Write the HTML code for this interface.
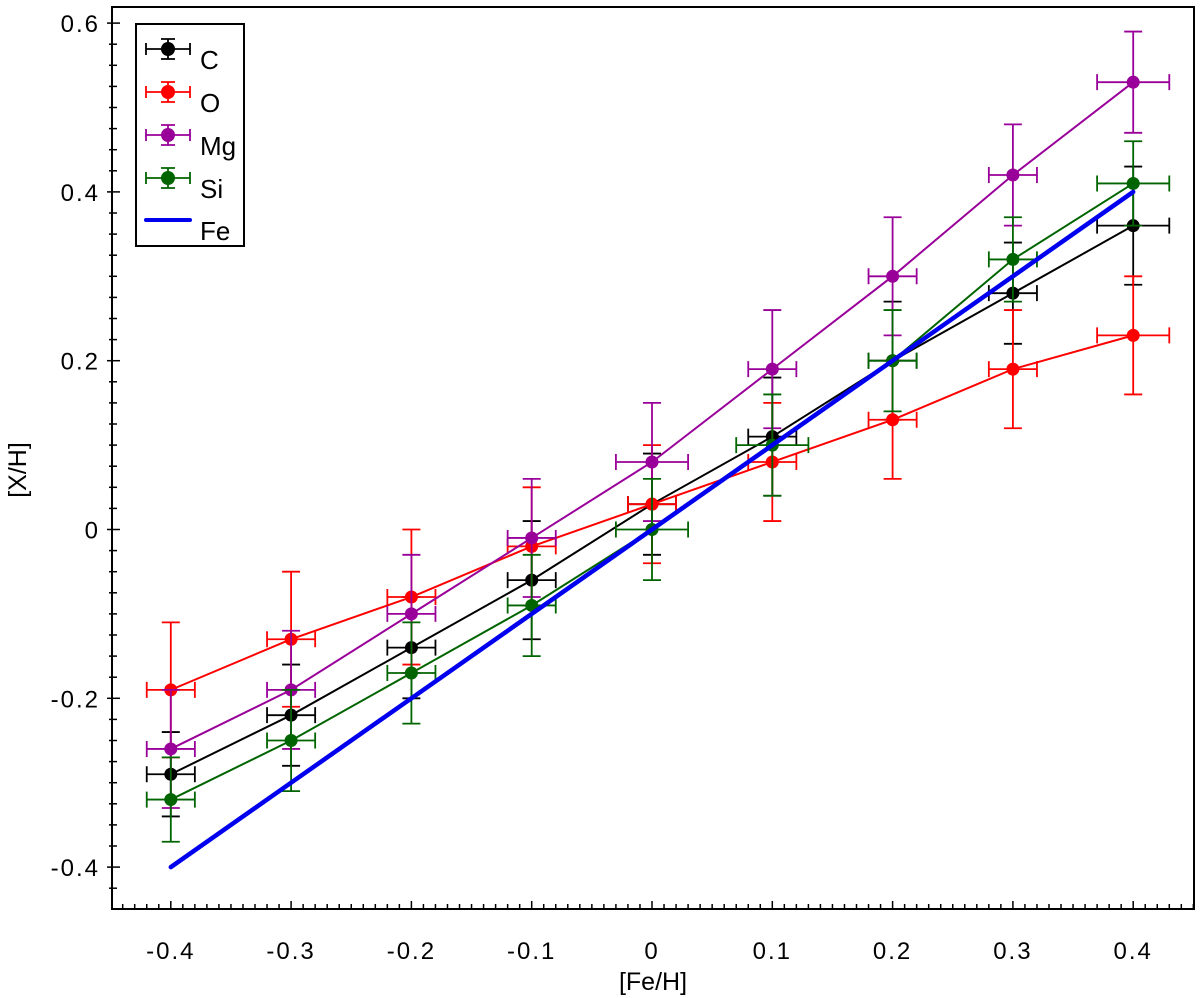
<!DOCTYPE html>
<html><head><meta charset="utf-8"><style>
html,body{margin:0;padding:0;background:#fff;}
svg{display:block;font-family:"Liberation Sans",sans-serif;}
</style></head><body>
<svg id="chart" width="1200" height="998"></svg>
<script>
const xVals=[-0.4,-0.3,-0.2,-0.1,0,0.1,0.2,0.3,0.4];
const cVals=[-0.29,-0.22,-0.14,-0.06,0.03,0.11,0.20,0.28,0.36];
const oVals=[-0.19,-0.13,-0.08,-0.02,0.03,0.08,0.13,0.19,0.23];
const mgVals=[-0.26,-0.19,-0.10,-0.01,0.08,0.19,0.30,0.42,0.53];
const siVals=[-0.32,-0.25,-0.17,-0.09,0.00,0.10,0.20,0.32,0.41];
const feVals=[-0.4,-0.3,-0.2,-0.1,0,0.1,0.2,0.3,0.4];
const cYErr=[0.05,0.06,0.06,0.07,0.06,0.07,0.07,0.06,0.07];
const oYErr=[0.08,0.08,0.08,0.07,0.07,0.07,0.07,0.07,0.07];
const mgYErr=[0.07,0.07,0.07,0.07,0.07,0.07,0.07,0.06,0.06];
const siYErr=[0.05,0.06,0.06,0.06,0.06,0.06,0.06,0.05,0.05];
const cXErr=[0.02,0.02,0.02,0.02,0.02,0.02,0.02,0.02,0.03];
const oXErr=[0.02,0.02,0.02,0.02,0.02,0.02,0.02,0.02,0.03];
const mgXErr=[0.02,0.02,0.02,0.02,0.03,0.02,0.02,0.02,0.03];
const siXErr=[0.02,0.02,0.02,0.02,0.03,0.03,0.02,0.02,0.03];
const xTicks=[-0.4,-0.3,-0.2,-0.1,0,0.1,0.2,0.3,0.4];
const xTickLabels=["-0.4","-0.3","-0.2","-0.1","0","0.1","0.2","0.3","0.4"];
const yTicks=[-0.4,-0.2,0,0.2,0.4,0.6];
const yTickLabels=["-0.4","-0.2","0","0.2","0.4","0.6"];

const L=112,R=1194,T=7,B=909;
const X=v=>652+v*1203;
const Y=v=>529.5-v*844;
const svg=document.getElementById('chart');
const NS='http://www.w3.org/2000/svg';
function mk(tag,attrs,parent){const e=document.createElementNS(NS,tag);for(const k in attrs)e.setAttribute(k,attrs[k]);(parent||svg).appendChild(e);return e;}

const frame=mk('rect',{x:L,y:T,width:R-L,height:B-T,fill:'none',stroke:'#000','stroke-width':2});



const xg=mk('g',{});


for(let i=-45;i<=45;i++){const v=i/100;const px=X(v);if(px<L||px>R)continue;const major=i%10===0;
 mk('line',{x1:px,x2:px,y1:B,y2:B-(major?8:5),stroke:'#000','stroke-width':1.5},xg);}
xTicks.forEach((v,i)=>{const t=mk('text',{x:X(v),y:B+50,'text-anchor':'middle','font-size':24,'letter-spacing':'2'},xg);t.textContent=xTickLabels[i];
 
 });
const yg=mk('g',{});


for(let i=-18;i<=24;i++){const v=i*0.025;const py=Y(v);if(py<T||py>B)continue;const major=i%8===0;
 mk('line',{x1:L-(major?5:3),x2:L+(major?8:5),y1:py,y2:py,stroke:'#000','stroke-width':1.5},yg);}
yTicks.forEach((v,i)=>{const t=mk('text',{x:L-12,y:Y(v)+9,'text-anchor':'end','font-size':24,'letter-spacing':'2'},yg);t.textContent=yTickLabels[i];
 
 });
const xt=mk('text',{x:653,y:990,'text-anchor':'middle','font-size':25});xt.textContent='[Fe/H]';


const yt=mk('text',{x:26,y:470,'text-anchor':'middle','font-size':25,transform:'rotate(-90 26 470)'});yt.textContent='[X/H]';



function series(name,vals,ye,xe,col){
 const g=mk('g',{});
 
 
 mk('polyline',{points:xVals.map((x,i)=>X(x)+','+Y(vals[i])).join(' '),fill:'none',stroke:col,'stroke-width':2},g);
 xVals.forEach((x,i)=>{const cx=X(x),cy=Y(vals[i]);const y1=Y(vals[i]+ye[i]),y2=Y(vals[i]-ye[i]);const x1=X(x-xe[i]),x2=X(x+xe[i]);
  mk('path',{d:`M${cx},${y1}V${y2}M${cx-9},${y1}H${cx+9}M${cx-9},${y2}H${cx+9}M${x1},${cy}H${x2}M${x1},${cy-8}V${cy+8}M${x2},${cy-8}V${cy+8}`,stroke:col,'stroke-width':1.8,fill:'none'},g);
  const d=mk('circle',{cx:cx,cy:cy,r:6.5,fill:col},g);
  
  
 });
}
series('c',cVals,cYErr,cXErr,'#000');
series('o',oVals,oYErr,oXErr,'#ff0000');
series('mg',mgVals,mgYErr,mgXErr,'#990099');
series('si',siVals,siYErr,siXErr,'#006400');
const fe=mk('polyline',{points:xVals.map((x,i)=>X(x)+','+Y(feVals[i])).join(' '),fill:'none',stroke:'#0000ee','stroke-width':4.5,'stroke-linecap':'round'});



const lg=mk('g',{});


mk('rect',{x:136,y:24,width:108,height:222,fill:'#fff',stroke:'#000','stroke-width':2},lg);
const legNames=['C','O','Mg','Si'];const legCols=['#000','#ff0000','#990099','#006400'];
legNames.forEach((n,i)=>{const cy=49+i*43;const e=mk('g',{},lg);
 
 
 mk('path',{d:`M146,${cy}H190M146,${cy-6}V${cy+6}M190,${cy-6}V${cy+6}M168,${cy-10}V${cy+10}M161,${cy-10}H175M161,${cy+10}H175`,stroke:legCols[i],'stroke-width':1.8},e);
 mk('circle',{cx:168,cy:cy,r:7,fill:legCols[i]},e);
 const t=mk('text',{x:200,y:cy+20,'font-size':26},e);t.textContent=n;});
const fg=mk('g',{},lg);


mk('line',{x1:146,x2:190,y1:220,y2:220,stroke:'#0000ee','stroke-width':4,'stroke-linecap':'round'},fg);
const ft=mk('text',{x:200,y:240,'font-size':26},fg);ft.textContent='Fe';
</script>
</body></html>
